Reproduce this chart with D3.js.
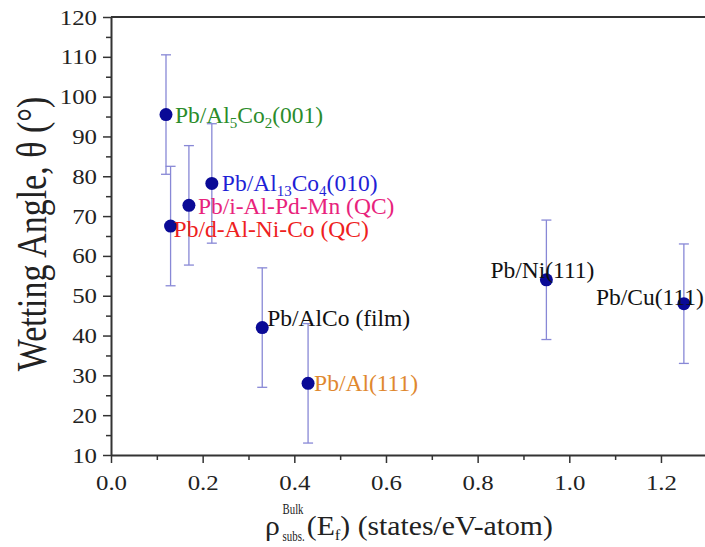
<!DOCTYPE html>
<html>
<head>
<meta charset="utf-8">
<script src="https://cdn.jsdelivr.net/npm/d3@7"></script>
<style>
  body { margin: 0; background: #fff; }
</style>
</head>
<body>
<div id="root"></div>
<script>
const w = 705;
const h = 547;
const paddingTop = 17;
const paddingBottom = 92;   // axis at y = 455
const paddingLeft = 111;
const serif = "'Liberation Serif', 'Times New Roman', Times, serif";

// data
const names = ["Pb/Al_{5}Co_{2}(001)", "Pb/d-Al-Ni-Co (QC)", "Pb/i-Al-Pd-Mn (QC)", "Pb/Al_{13}Co_{4}(010)",
               "Pb/AlCo (film)", "Pb/Al(111)", "Pb/Ni(111)", "Pb/Cu(111)"];
const density = [0.12, 0.13, 0.17, 0.22, 0.33, 0.43, 0.95, 1.25];
const angle = [95.5, 67.5, 72.7, 78.2, 42, 28, 54, 48];
const angleErr = [15, 15, 15, 15, 15, 15, 15, 15];
const xTicks = [0, 0.2, 0.4, 0.6, 0.8, 1.0, 1.2];
const yTicks = [10, 20, 30, 40, 50, 60, 70, 80, 90, 100, 110, 120];

// label styling: colour, anchor and offset from the dot
const labelColors = ["#2b8c2b", "#ee2020", "#e8237c", "#1f1fd6", "#111", "#e0882e", "#111", "#111"];
const labelAnchor = ["start", "start", "start", "start", "start", "start", "middle", "end"];
const labelDx = [9, 3, 9, 10, 5, 6, -4, 20];
const labelDy = [8, 11, 9, 8, -2, 8, -2, 1];

const xScale = d3.scaleLinear()
    .domain([0, 1.3])
    .range([paddingLeft, paddingLeft + 1.3 * 458.3]);

const yScale = d3.scaleLinear()
    .domain([10, 120])
    .range([h - paddingBottom, paddingTop]);

const svg = d3.select("#root")
    .append("svg")
    .attr("width", w)
    .attr("height", h)
    .attr("font-family", serif);

const axisColor = "#333";

// the original figure is a bit wider than tall, stretch text to match
function widen(sel, k) {
    sel.each(function() {
        const len = this.getComputedTextLength();
        d3.select(this).attr("textLength", len * k).attr("lengthAdjust", "spacingAndGlyphs");
    });
}

// minor ticks
svg.append("g")
    .attr("transform", "translate(0, " + (h - paddingBottom) + ")")
    .call(d3.axisBottom(xScale).tickValues(d3.range(0.1, 1.3, 0.2)).tickSize(5).tickFormat(""))
    .call(g => g.selectAll("line").attr("stroke", axisColor).attr("stroke-width", 1.5))
    .call(g => g.selectAll("text").remove())
    .call(g => g.select(".domain").remove());

svg.append("g")
    .attr("transform", "translate(" + paddingLeft + ", 0)")
    .call(d3.axisLeft(yScale).tickValues(d3.range(15, 120, 10)).tickSize(5).tickFormat(""))
    .call(g => g.selectAll("line").attr("stroke", axisColor).attr("stroke-width", 1.5))
    .call(g => g.selectAll("text").remove())
    .call(g => g.select(".domain").remove());

// x-axis
svg.append("g")
    .attr("transform", "translate(0, " + (h - paddingBottom) + ")")
    .call(d3.axisBottom(xScale).tickValues(xTicks).tickSize(8).tickSizeOuter(0).tickPadding(11)
        .tickFormat(d3.format(".1f")))
    .attr("font-family", serif)
    .call(g => g.selectAll("line").attr("stroke", axisColor).attr("stroke-width", 1.5))
    .call(g => g.select(".domain").attr("stroke", axisColor).attr("stroke-width", 2))
    .call(g => g.selectAll("text").attr("font-size", 22).attr("fill", "#222"))
    .call(g => widen(g.selectAll("text"), 1.13));

// y-axis
svg.append("g")
    .attr("transform", "translate(" + paddingLeft + ", 0)")
    .call(d3.axisLeft(yScale).tickValues(yTicks).tickSize(8).tickSizeOuter(0).tickPadding(6))
    .attr("font-family", serif)
    .call(g => g.selectAll("line").attr("stroke", axisColor).attr("stroke-width", 1.5))
    .call(g => g.select(".domain").attr("stroke", axisColor).attr("stroke-width", 2))
    .call(g => g.selectAll("text").attr("font-size", 22).attr("fill", "#222"))
    .call(g => widen(g.selectAll("text"), 1.13));

// top frame line
svg.append("line")
    .attr("x1", paddingLeft).attr("x2", w)
    .attr("y1", paddingTop).attr("y2", paddingTop)
    .attr("stroke", axisColor).attr("stroke-width", 2);

// y-axis label
svg.append("text")
    .attr("transform", "translate(46, 234) rotate(-90) scale(1, 1.22)")
    .attr("text-anchor", "middle")
    .attr("font-size", 34)
    .attr("fill", "#222")
    .text("Wetting Angle, θ (°)");

// x-axis label
const xt = svg.append("g").attr("fill", "#222")
    .attr("transform", "translate(265, 535) scale(1.1, 1)");
xt.append("text").attr("x", 0).attr("y", 0).attr("font-size", 27).text("ρ");
xt.append("text").attr("x", 16).attr("y", -21).attr("font-size", 15)
    .attr("textLength", 19).attr("lengthAdjust", "spacingAndGlyphs").text("Bulk");
xt.append("text").attr("x", 16).attr("y", 6).attr("font-size", 15)
    .attr("textLength", 20).attr("lengthAdjust", "spacingAndGlyphs").text("subs.");
const xm = xt.append("text").attr("x", 38).attr("y", 0).attr("font-size", 27);
xm.append("tspan").text("(E");
xm.append("tspan").attr("font-size", 15).attr("dy", 5).text("f");
xm.append("tspan").attr("dy", -5).text(") (states/eV-atom)");

// error bars
const idx = d3.range(names.length);
const capW = 5;
const bars = svg.append("g").attr("stroke", "#8888d6").attr("stroke-width", 1.3);
bars.selectAll(".err")
    .data(idx)
    .enter()
    .append("line")
    .attr("x1", i => xScale(density[i]))
    .attr("x2", i => xScale(density[i]))
    .attr("y1", i => yScale(angle[i] - angleErr[i]))
    .attr("y2", i => yScale(angle[i] + angleErr[i]));
bars.selectAll(".capTop")
    .data(idx)
    .enter()
    .append("line")
    .attr("x1", i => xScale(density[i]) - capW)
    .attr("x2", i => xScale(density[i]) + capW)
    .attr("y1", i => yScale(angle[i] + angleErr[i]))
    .attr("y2", i => yScale(angle[i] + angleErr[i]));
bars.selectAll(".capBottom")
    .data(idx)
    .enter()
    .append("line")
    .attr("x1", i => xScale(density[i]) - capW)
    .attr("x2", i => xScale(density[i]) + capW)
    .attr("y1", i => yScale(angle[i] - angleErr[i]))
    .attr("y2", i => yScale(angle[i] - angleErr[i]));

// points
svg.selectAll(".dot")
    .data(idx)
    .enter()
    .append("circle")
    .attr("cx", i => xScale(density[i]))
    .attr("cy", i => yScale(angle[i]))
    .attr("r", 6.5)
    .attr("fill", "#0a0a96");

// labels, "_{..}" marks a subscript
const labels = svg.selectAll(".lab")
    .data(idx)
    .enter()
    .append("text")
    .attr("x", i => xScale(density[i]) + labelDx[i])
    .attr("y", i => yScale(angle[i]) + labelDy[i])
    .attr("text-anchor", i => labelAnchor[i])
    .attr("font-size", 23.5)
    .attr("fill", i => labelColors[i]);

labels.each(function(i) {
    const t = d3.select(this);
    let shift = 0;
    names[i].split(/(_\{[^}]*\})/).filter(s => s.length).forEach(s => {
        if (s.startsWith("_{")) {
            t.append("tspan").attr("font-size", 15).attr("dy", 5 - shift).text(s.slice(2, -1));
            shift = 5;
        } else {
            t.append("tspan").attr("dy", -shift).text(s);
            shift = 0;
        }
    });
});
</script>
</body>
</html>
